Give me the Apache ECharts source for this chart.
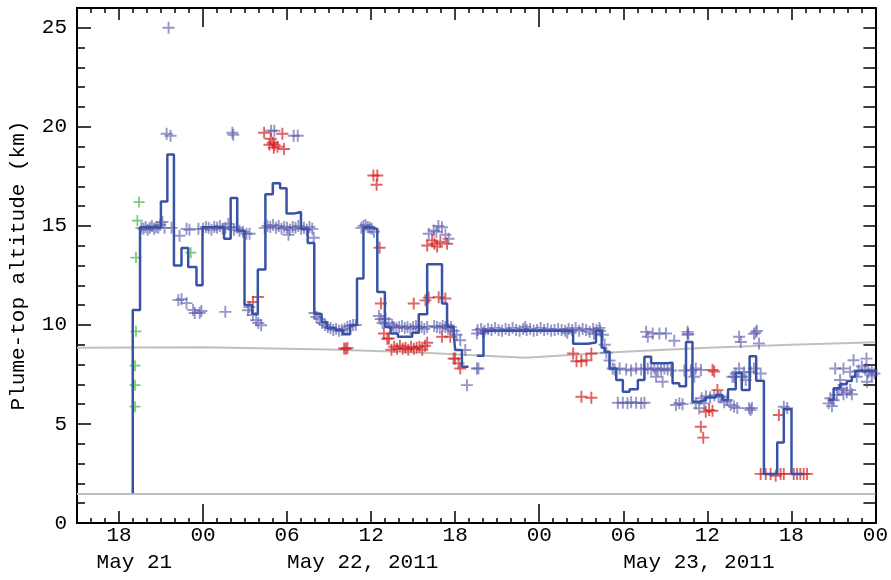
<!DOCTYPE html>
<html>
<head>
<meta charset="utf-8">
<script src="https://cdn.jsdelivr.net/npm/echarts@6/dist/echarts.min.js"></script>
<style>
  html, body { margin: 0; padding: 0; background: #fff; }
  #chart-container { width: 891px; height: 580px; }
</style>
</head>
<body>
<div id="chart-container"></div>
<script>
var dom = document.getElementById('chart-container');
var myChart = echarts.init(dom, null, { renderer: 'canvas' });

// x values: hours since May 21 00:00 (UT)
const xMin = 15, xMax = 72;
const sixHourTicks = [18, 30, 36, 42, 54, 60, 66];
const midnightTicks = [24, 48, 72];
const labelHours = [18, 24, 30, 36, 42, 48, 54, 60, 66, 72];
const tickLabels = ['18', '00', '06', '12', '18', '00', '06', '12', '18', '00'];
const dateLabelHours = [16.4, 30, 54];
const dateLabels = ['May 21', 'May 22, 2011', 'May 23, 2011'];
const yLabelValues = [0, 5, 10, 15, 20, 25];

// plume-top estimate (step line), '-' = gap
const plumeLine = [
  [18.98, 1.5], [18.98, 10.75], [19.5, 14.93], [20.99, 16.23], [21.45, 18.6], [21.92, 13.0],
  [22.46, 13.88], [22.94, 12.92], [23.53, 12.0], [23.96, 14.93], [25.5, 14.35], [25.97, 16.41],
  [26.44, 14.77], [26.96, 11.0], [27.51, 10.57], [27.91, 12.8], [28.45, 16.6], [28.98, 17.15],
  [29.5, 16.9], [29.96, 15.62], [30.47, 15.7], [30.99, 14.85], [31.47, 14.13], [31.94, 10.55],
  [32.46, 10.15], [32.84, 9.85], [33.48, 9.73], [33.98, 9.53], [34.5, 10.0], [34.99, 12.34],
  [35.45, 14.93], [35.97, 14.85], [36.44, 11.66], [36.98, 9.9], [37.39, 9.57], [37.91, 9.4],
  [38.93, 9.6], [39.4, 10.54], [40.0, 13.06], [41.06, 11.08], [41.42, 9.9], [41.89, 9.57],
  [42.0, 8.73], [42.48, 7.89], [42.95, 7.89], ['-', '-'],
  [43.55, 8.44], [44.02, 9.7], [50.42, 9.05], [51.48, 9.11], [52.05, 9.7], [52.46, 8.85],
  [52.67, 8.64], [53.02, 7.8], [53.5, 7.22], [53.97, 6.63], [54.45, 6.75], [55.04, 7.22],
  [55.51, 8.39], [55.99, 8.06], [57.05, 8.09], [57.52, 7.05], [58.0, 6.91], [58.48, 9.14],
  [58.94, 6.12], [59.42, 6.21], [59.9, 6.34], [60.61, 6.46], [61.08, 6.21], [61.48, 6.75],
  [62.03, 7.58], [62.46, 6.71], [63.02, 8.42], [63.49, 7.18], [64.04, 2.48], [64.99, 4.06],
  [65.46, 5.74], [66.01, 2.48], [66.88, 2.48], ['-', '-'],
  [68.66, 6.21], [69.02, 6.8], [69.49, 7.0], [69.96, 7.17], [70.32, 7.38], [70.56, 7.67],
  [72.0, 7.63]
];

// lower reference level and tropopause
const ventLevel = [[15, 1.47], [72, 1.47]];
const tropopause = [[15, 8.85], [24, 8.87], [33, 8.76], [39, 8.62], [47, 8.34], [54, 8.64], [60, 8.85], [66, 9.0], [72, 9.12]];

const bluePoints = [
  [21.54, 25.0], [21.4, 19.65], [21.68, 19.55], [26.09, 19.7], [26.16, 19.6], [28.86, 19.8], [29.09, 19.8],
  [30.47, 19.55], [30.76, 19.55],
  [19.6, 14.9], [19.75, 14.85], [19.9, 14.95], [20.05, 14.8], [20.2, 14.9], [20.35, 15.0], [20.5, 14.85],
  [20.65, 14.95], [20.8, 14.9], [20.95, 15.05], [21.1, 15.2], [21.25, 14.9], [21.75, 14.9], [22.32, 14.5],
  [22.82, 14.85], [23.03, 14.8], [23.67, 14.85],
  [24.0, 14.85], [24.2, 14.95], [24.4, 14.9], [24.6, 14.8], [24.8, 14.95], [25.0, 14.9], [25.2, 15.0],
  [25.4, 14.85], [25.6, 14.9], [25.8, 15.1], [26.0, 14.95], [26.2, 14.8], [26.4, 14.9], [26.6, 14.75],
  [26.85, 14.7], [27.1, 14.6], [27.32, 14.6],
  [22.23, 11.25], [22.46, 11.3], [22.82, 11.1], [23.29, 10.75], [23.41, 10.6], [23.76, 10.6], [23.88, 10.7],
  [25.59, 10.66], [27.2, 10.74], [27.3, 10.9], [27.56, 10.5], [27.79, 10.24], [27.94, 10.1], [28.15, 9.98],
  [28.4, 14.9], [28.6, 15.0], [28.8, 14.95], [29.0, 15.05], [29.2, 14.9], [29.4, 15.0], [29.6, 14.85],
  [29.8, 14.95], [30.0, 14.9], [30.2, 14.8], [30.4, 14.95], [30.6, 14.9], [30.8, 15.0], [31.0, 14.85],
  [31.2, 14.9], [31.4, 14.8], [31.6, 14.95], [31.8, 14.85], [30.1, 14.55], [31.9, 14.4],
  [31.95, 10.6], [32.1, 10.4], [32.3, 10.3], [32.5, 10.1], [32.7, 10.0], [32.9, 9.9], [33.1, 9.85],
  [33.3, 9.75], [33.5, 9.8], [33.7, 9.7], [33.9, 9.75], [34.1, 9.8], [34.3, 9.9], [34.5, 9.95],
  [34.7, 10.0], [34.9, 10.0],
  [35.3, 14.9], [35.45, 15.0], [35.6, 15.05], [35.75, 14.95], [35.9, 14.9], [36.05, 14.85], [36.2, 14.7],
  [36.56, 10.45], [36.68, 10.3], [36.82, 10.1], [37.03, 10.3], [37.25, 10.1], [37.5, 10.0],
  [37.6, 9.9], [37.8, 9.85], [38.0, 9.9], [38.2, 9.95], [38.4, 9.85], [38.6, 9.9], [38.8, 9.8],
  [39.0, 9.9], [39.2, 9.95], [39.4, 9.85], [39.6, 9.9], [39.8, 9.8], [40.0, 9.9],
  [40.11, 14.6], [40.47, 14.77], [41.06, 14.93], [41.53, 14.35], [40.66, 14.7], [41.3, 14.55], [40.8, 15.0],
  [40.5, 9.95], [40.7, 9.9], [40.9, 9.85], [41.1, 9.95], [41.3, 9.9], [41.5, 9.8], [41.7, 9.9],
  [41.9, 9.7], [42.1, 9.5], [42.36, 9.23], [42.72, 8.73], [43.55, 9.57], [43.55, 7.8], [43.66, 7.8],
  [42.84, 6.96], [41.44, 9.98],
  [43.6, 9.75], [43.85, 9.8], [44.1, 9.7], [44.35, 9.8], [44.6, 9.75], [44.85, 9.85], [45.1, 9.75],
  [45.35, 9.7], [45.6, 9.8], [45.85, 9.75], [46.1, 9.85], [46.35, 9.75], [46.6, 9.7], [46.85, 9.8],
  [47.1, 9.75], [47.35, 9.8], [47.6, 9.7], [47.85, 9.75], [48.1, 9.85], [48.35, 9.75], [48.6, 9.8],
  [48.85, 9.7], [49.1, 9.75], [49.35, 9.8], [49.6, 9.75], [49.85, 9.7], [50.1, 9.8], [50.35, 9.75],
  [50.6, 9.85], [50.85, 9.7], [51.1, 9.8], [51.35, 9.75], [51.6, 9.65], [51.85, 9.8], [52.1, 9.75],
  [52.35, 9.7], [44.0, 9.6], [47.0, 9.9], [50.0, 9.6], [51.9, 9.55], [52.3, 9.85],
  [52.55, 9.5], [52.67, 9.0], [52.79, 8.6], [53.02, 8.2], [53.24, 7.8],
  [53.38, 7.75], [53.74, 7.8], [54.21, 7.75], [54.56, 7.7], [54.92, 7.8], [55.28, 7.75], [55.75, 7.8],
  [55.99, 7.75], [56.22, 7.8], [56.46, 7.7], [56.7, 7.75], [56.93, 7.8], [57.17, 7.75], [57.41, 7.7],
  [58.36, 7.7], [56.34, 7.38], [56.81, 7.13],
  [53.61, 6.07], [53.97, 6.07], [54.3, 6.05], [54.56, 6.1], [54.92, 6.07], [55.28, 6.05], [55.51, 6.07],
  [55.63, 9.65], [55.75, 9.4], [56.1, 9.57], [56.58, 9.57], [57.05, 9.57], [57.64, 9.2],
  [58.59, 9.65], [58.6, 9.5], [58.64, 9.55],
  [57.76, 5.96], [58.0, 6.05], [58.23, 6.0],
  [58.83, 7.72], [59.18, 7.8], [59.54, 7.72], [59.07, 7.38],
  [59.18, 6.04], [59.42, 5.79], [59.78, 6.04],
  [59.6, 6.3], [59.9, 6.4], [60.2, 6.35], [60.5, 6.45], [60.8, 6.4], [60.96, 6.37], [61.2, 6.1],
  [61.43, 6.2], [61.67, 5.96], [61.91, 5.87], [62.14, 5.8],
  [61.79, 7.38], [62.03, 7.55],
  [62.27, 9.4], [62.39, 9.14], [63.45, 9.62], [63.33, 9.55], [63.54, 9.7], [63.69, 9.06],
  [62.27, 7.8], [61.91, 7.38], [62.5, 7.38], [62.74, 7.22], [63.09, 7.63], [63.33, 7.8], [63.81, 7.55], [62.62, 7.6],
  [62.98, 5.79], [63.09, 5.7], [63.19, 5.8],
  [65.46, 5.87], [65.7, 5.8],
  [68.78, 6.3], [68.66, 6.04], [69.02, 6.2], [68.9, 5.9], [69.25, 6.46], [69.37, 6.71], [69.6, 6.8],
  [69.72, 6.5], [69.96, 6.6], [70.2, 6.71], [70.32, 6.5], [69.48, 7.22], [69.13, 7.8], [69.72, 7.8],
  [70.2, 7.63], [70.44, 8.22], [70.67, 7.38], [70.79, 7.7], [71.03, 7.9], [71.27, 7.75], [71.5, 7.6],
  [71.74, 7.7], [71.93, 7.55], [71.4, 7.13], [71.74, 7.45], [71.36, 8.3]
];

const redPoints = [
  [28.36, 19.7], [28.83, 19.4], [29.66, 19.65], [28.74, 19.1], [28.98, 19.2], [29.1, 19.1], [29.31, 19.0],
  [29.78, 18.88], [29.05, 18.95],
  [27.56, 11.16], [27.91, 11.41],
  [34.07, 8.81], [34.19, 8.8], [34.31, 8.84],
  [36.16, 17.54], [36.44, 17.54], [36.39, 17.08], [36.6, 13.9],
  [36.7, 11.08], [36.91, 9.57], [37.15, 9.3], [37.27, 9.32],
  [37.45, 8.75], [37.65, 8.9], [37.85, 8.8], [38.05, 8.95], [38.25, 8.8], [38.45, 8.85], [38.65, 8.75],
  [38.85, 8.9], [39.05, 8.8], [39.25, 8.85], [39.45, 8.9], [39.65, 8.75], [39.85, 8.95], [40.0, 9.1],
  [39.04, 11.08], [39.88, 11.24], [40.11, 11.38], [40.82, 11.4], [41.3, 11.33], [41.06, 9.4], [41.65, 9.4],
  [40.0, 14.01], [40.35, 14.27], [40.52, 14.1], [40.71, 13.96], [41.42, 14.1], [40.94, 14.2],
  [41.89, 8.3], [42.0, 8.3], [42.24, 8.06], [42.36, 7.8],
  [50.42, 8.56], [50.66, 8.17], [51.01, 8.17], [51.37, 8.22], [51.72, 8.56],
  [51.01, 6.37], [51.72, 6.32],
  [60.37, 7.72], [60.49, 7.65], [60.72, 6.71], [59.89, 5.62], [60.13, 5.7], [60.37, 5.67],
  [59.54, 4.86], [59.71, 4.31],
  [65.11, 5.45],
  [63.81, 2.48], [64.17, 2.48], [64.52, 2.48], [64.88, 2.38], [65.23, 2.48], [65.46, 2.48],
  [66.17, 2.48], [66.41, 2.48], [66.64, 2.48], [66.88, 2.48], [67.12, 2.48]
];

const greenPoints = [
  [19.43, 16.2], [19.31, 15.27], [19.21, 13.4], [19.21, 9.68], [19.14, 7.94], [19.14, 6.96], [19.14, 5.87],
  [23.12, 13.65]
];

const FONT = 'Liberation Mono';
const PLUS = 'path://M4.2,0h1.6v4.2h4.2v1.6h-4.2v4.2h-1.6v-4.2h-4.2v-1.6h4.2z';
const axisLineStyle = { show: true, onZero: false, lineStyle: { color: '#000', width: 2 } };
const tickStyle = { color: '#000', width: 1.5 };

function xAx(position, tick, label) {
  return {
    type: 'value', min: xMin, max: xMax, position: position,
    axisLine: axisLineStyle,
    splitLine: { show: false },
    axisTick: tick,
    axisLabel: label || { show: false }
  };
}

var option = {
  animation: false,
  grid: { left: 75, right: 14, top: 8, bottom: 57 },
  xAxis: [
    Object.assign(xAx('bottom', { show: true, inside: true, length: 5, lineStyle: tickStyle }), { interval: 1 }),
    xAx('bottom', { show: true, inside: true, length: 12, customValues: sixHourTicks, lineStyle: tickStyle },
      { show: true, customValues: labelHours, margin: 2, color: '#000', fontFamily: FONT, fontSize: 21,
        formatter: function (v) { return tickLabels[labelHours.indexOf(v)]; } }),
    xAx('bottom', { show: true, inside: true, length: 19, customValues: midnightTicks, lineStyle: tickStyle }),
    xAx('bottom', { show: false },
      { show: true, customValues: dateLabelHours, margin: 29, align: 'left', color: '#000', fontFamily: FONT, fontSize: 21,
        formatter: function (v) { return dateLabels[dateLabelHours.indexOf(v)]; } }),
    Object.assign(xAx('top', { show: true, inside: true, length: 5, lineStyle: tickStyle }), { interval: 1 }),
    xAx('top', { show: true, inside: true, length: 12, customValues: sixHourTicks, lineStyle: tickStyle }),
    xAx('top', { show: true, inside: true, length: 19, customValues: midnightTicks, lineStyle: tickStyle })
  ],
  yAxis: [
    {
      type: 'value', min: 0, max: 26, interval: 1, position: 'left',
      name: 'Plume-top altitude (km)', nameLocation: 'middle', nameGap: 48, nameRotate: 90,
      nameTextStyle: { color: '#000', fontFamily: FONT, fontSize: 21 },
      axisLine: axisLineStyle, splitLine: { show: false },
      axisTick: { show: true, inside: true, length: 8, lineStyle: tickStyle },
      axisLabel: { show: true, customValues: yLabelValues, margin: 10, color: '#000', fontFamily: FONT, fontSize: 21 }
    },
    {
      type: 'value', min: 0, max: 26, position: 'left',
      axisLine: axisLineStyle, splitLine: { show: false },
      axisTick: { show: true, inside: true, length: 14, customValues: yLabelValues, lineStyle: tickStyle },
      axisLabel: { show: false }
    },
    {
      type: 'value', min: 0, max: 26, interval: 1, position: 'right',
      axisLine: axisLineStyle, splitLine: { show: false },
      axisTick: { show: true, inside: true, length: 12, lineStyle: tickStyle },
      axisLabel: { show: false }
    }
  ],
  series: [
    { type: 'line', data: ventLevel, showSymbol: false, silent: true, z: 1,
      lineStyle: { color: '#c0c0c0', width: 2 } },
    { type: 'line', data: tropopause, showSymbol: false, silent: true, z: 1,
      lineStyle: { color: '#c0c0c0', width: 2 } },
    { type: 'scatter', data: bluePoints, symbol: PLUS, symbolSize: 12, z: 2,
      itemStyle: { color: 'rgba(88,88,170,0.78)' } },
    { type: 'scatter', data: redPoints, symbol: PLUS, symbolSize: 12, z: 3,
      itemStyle: { color: 'rgba(210,35,35,0.88)' } },
    { type: 'scatter', data: greenPoints, symbol: PLUS, symbolSize: 11, z: 3,
      itemStyle: { color: 'rgba(60,180,60,0.85)' } },
    { type: 'line', data: plumeLine, step: 'end', showSymbol: false, connectNulls: false, z: 4,
      lineStyle: { color: '#3853a6', width: 2.5 } }
  ]
};

myChart.setOption(option);
window.addEventListener('resize', myChart.resize);
</script>
</body>
</html>
